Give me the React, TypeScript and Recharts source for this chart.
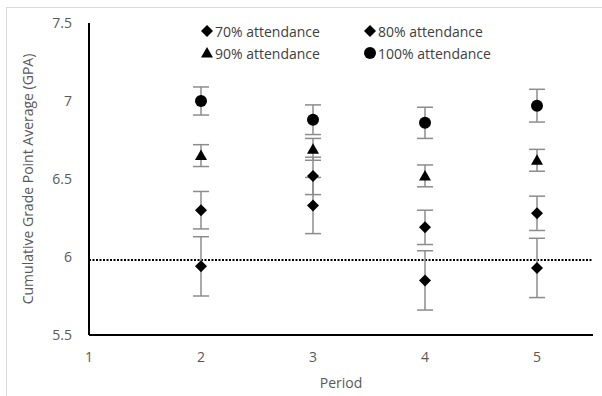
import { ScatterChart, Scatter, XAxis, YAxis, ErrorBar, ReferenceLine, Legend, Label } from 'recharts';

const periods = [2, 3, 4, 5];
const gpa70 = [5.94, 6.33, 5.85, 5.93];
const err70 = [0.19, 0.18, 0.19, 0.19];
const gpa80 = [6.3, 6.52, 6.19, 6.28];
const err80 = [0.12, 0.12, 0.11, 0.11];
const gpa90 = [6.65, 6.69, 6.52, 6.62];
const err90 = [0.07, 0.07, 0.07, 0.07];
const gpa100 = [7.0, 6.88, 6.86, 6.97];
const err100 = [0.09, 0.095, 0.1, 0.105];

const xTicks = [1, 2, 3, 4, 5];
const yTicks = [5.5, 6, 6.5, 7, 7.5];
const baseline = 5.98; // dotted reference level

const FONT = '"Open Sans", sans-serif';
const TEXT = '#595959';
const BAR_GRAY = '#8c8c8c';

const toPoints = (ys: number[], errs: number[]) =>
  periods.map((p, i) => ({ period: p, gpa: ys[i], err: errs[i] }));

type Shape = 'diamond' | 'triangle' | 'circle';

function marker(kind: Shape, cx: number, cy: number) {
  if (kind === 'circle') return <circle cx={cx} cy={cy} r={6} fill="#000" />;
  if (kind === 'triangle')
    return <path d={`M${cx},${cy - 6}L${cx + 6},${cy + 4.5}L${cx - 6},${cy + 4.5}Z`} fill="#000" />;
  return <path d={`M${cx},${cy - 6}L${cx + 6},${cy}L${cx},${cy + 6}L${cx - 6},${cy}Z`} fill="#000" />;
}

const series: { name: string; kind: Shape; data: ReturnType<typeof toPoints> }[] = [
  { name: '70% attendance', kind: 'diamond', data: toPoints(gpa70, err70) },
  { name: '80% attendance', kind: 'diamond', data: toPoints(gpa80, err80) },
  { name: '90% attendance', kind: 'triangle', data: toPoints(gpa90, err90) },
  { name: '100% attendance', kind: 'circle', data: toPoints(gpa100, err100) },
];

const LegendGrid = () => (
  <div
    style={{
      display: 'grid',
      gridTemplateColumns: '163px 163px',
      fontFamily: FONT,
      fontSize: 14,
      color: '#404040',
    }}
  >
    {series.map(s => (
      <div key={s.name} style={{ display: 'flex', alignItems: 'center', height: 22 }}>
        <svg width={12} height={14} style={{ marginRight: 2 }}>
          {marker(s.kind, 6, 7)}
        </svg>
        <span>{s.name}</span>
      </div>
    ))}
  </div>
);

export default function App() {
  return (
    <div style={{ position: 'absolute', left: 0, top: 0, width: 602, height: 396, background: '#fff' }}>
      <div
        style={{
          position: 'absolute',
          left: 6,
          top: 7,
          width: 596,
          height: 389,
          borderTop: '1px solid #d9d9d9',
          borderLeft: '1px solid #d9d9d9',
          boxSizing: 'border-box',
        }}
      />
      <ScatterChart width={602} height={396} margin={{ top: 23, right: 9, bottom: 0, left: 0 }}>
        <XAxis
          type="number"
          dataKey="period"
          domain={[1, 5.5]}
          ticks={xTicks}
          height={61}
          tickLine={false}
          tickSize={0}
          tickMargin={17}
          axisLine={{ stroke: '#000', strokeWidth: 2 }}
          tick={{ fontSize: 14, fill: TEXT, fontFamily: FONT }}
        >
          <Label value="Period" position="insideBottom" offset={8} style={{ fontSize: 14, fill: TEXT, fontFamily: FONT }} />
        </XAxis>
        <YAxis
          type="number"
          dataKey="gpa"
          domain={[5.5, 7.5]}
          ticks={yTicks}
          width={89}
          tickLine={false}
          tickSize={0}
          tickMargin={17}
          axisLine={{ stroke: '#000', strokeWidth: 2 }}
          tick={{ fontSize: 14, fill: TEXT, fontFamily: FONT }}
        >
          <Label
            value="Cumulative Grade Point Average (GPA)"
            angle={-90}
            position="insideLeft"
            offset={28}
            style={{ fontSize: 14, fill: TEXT, fontFamily: FONT, textAnchor: 'middle' }}
          />
        </YAxis>
        <ReferenceLine y={baseline} stroke="#000" strokeWidth={2} strokeDasharray="2 1.5" />
        <Legend
          layout="horizontal"
          verticalAlign="middle"
          align="center"
          content={LegendGrid}
          wrapperStyle={{ top: 20, left: 201, width: 330, height: 44 }}
        />
        {series.map(s => (
          <Scatter
            key={s.name}
            name={s.name}
            data={s.data}
            isAnimationActive={false}
            shape={(p: any) => marker(s.kind, p.cx, p.cy)}
          >
            <ErrorBar dataKey="err" direction="y" width={8} stroke={BAR_GRAY} strokeWidth={1.5} />
          </Scatter>
        ))}
      </ScatterChart>
    </div>
  );
}
